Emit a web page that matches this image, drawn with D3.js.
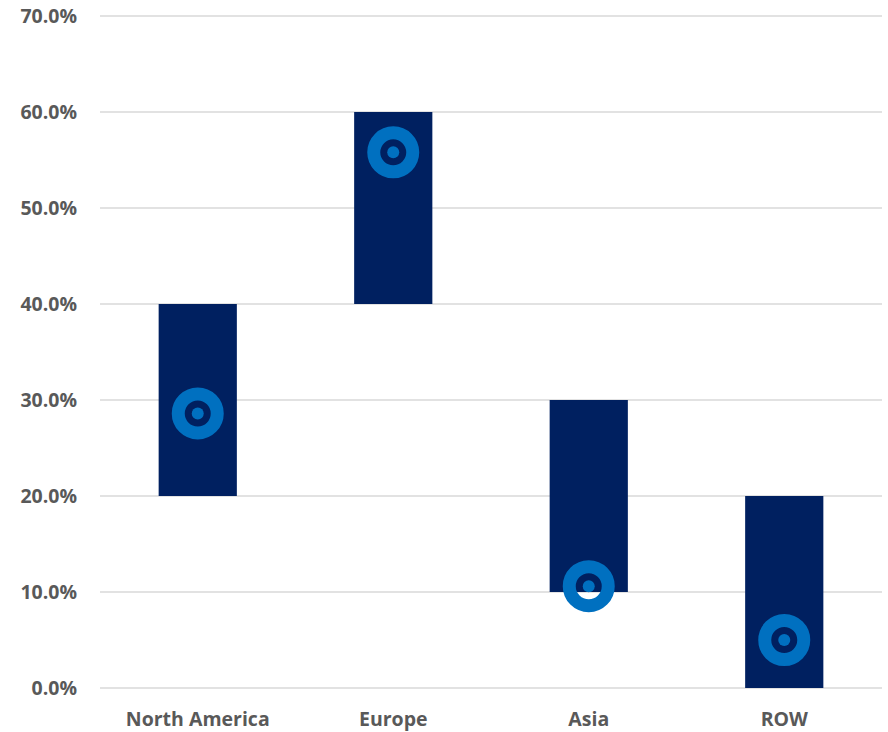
<!DOCTYPE html>
<html>
<head>
<meta charset="utf-8">
<script src="https://cdn.jsdelivr.net/npm/d3@7"></script>
<style>
  html, body { margin: 0; padding: 0; background: #ffffff; }
  svg text { font-family: "Open Sans", "Liberation Sans", sans-serif; font-weight: 700; fill: #595959; }
</style>
</head>
<body>
<svg id="chart" width="888" height="732"></svg>
<script>
// Regional ranges (low/high) and point estimates, in percent
const regions = ["North America", "Europe", "Asia", "ROW"];
const rangeLow = [20, 40, 10, 0];
const rangeHigh = [40, 60, 30, 20];
const pointValue = [28.6, 55.8, 10.6, 5.0];
const yTicks = [0, 10, 20, 30, 40, 50, 60, 70];

const svg = d3.select("#chart");
const margin = { left: 100, right: 6, top: 16, bottom: 44 };
const width = 888, height = 732;

const x = d3.scaleBand()
  .domain(regions)
  .range([margin.left, width - margin.right])
  .paddingInner(0.6)
  .paddingOuter(0.3);

const y = d3.scaleLinear()
  .domain([0, 70])
  .range([height - margin.bottom, margin.top]);

// Horizontal gridlines
svg.append("g")
  .selectAll("line")
  .data(yTicks)
  .join("line")
  .attr("x1", margin.left)
  .attr("x2", width - margin.right)
  .attr("y1", d => y(d))
  .attr("y2", d => y(d))
  .attr("stroke", "#d9d9d9")
  .attr("stroke-width", 1.5);

// Y axis labels
const yAxis = d3.axisLeft(y)
  .tickValues(yTicks)
  .tickFormat(d => d3.format(".1f")(d) + "%")
  .tickSize(0)
  .tickPadding(23);
const gy = svg.append("g")
  .attr("transform", `translate(${margin.left},0)`)
  .call(yAxis);
gy.select(".domain").remove();
gy.selectAll("text").style("font-size", "19.5px").attr("fill", "#595959");

// X axis labels
const xAxis = d3.axisBottom(x).tickSize(0).tickPadding(24);
const gx = svg.append("g")
  .attr("transform", `translate(0,${height - margin.bottom})`)
  .call(xAxis);
gx.select(".domain").remove();
gx.selectAll("text").style("font-size", "19.5px").attr("fill", "#595959");

const data = regions.map((r, i) => ({ region: r, low: rangeLow[i], high: rangeHigh[i], value: pointValue[i] }));

// Range bars
svg.append("g")
  .selectAll("rect")
  .data(data)
  .join("rect")
  .attr("x", d => x(d.region))
  .attr("width", x.bandwidth())
  .attr("y", d => y(d.high))
  .attr("height", d => y(d.low) - y(d.high))
  .attr("fill", "#002060");

// Point markers: hollow ring with a centre dot
const markers = svg.append("g")
  .selectAll("g")
  .data(data)
  .join("g")
  .attr("transform", d => `translate(${x(d.region) + x.bandwidth() / 2},${y(d.value)})`);
markers.append("circle")
  .attr("r", 19.5)
  .attr("fill", "none")
  .attr("stroke", "#0070c0")
  .attr("stroke-width", 13);
markers.append("circle")
  .attr("r", 6)
  .attr("fill", "#0070c0");
</script>
</body>
</html>
